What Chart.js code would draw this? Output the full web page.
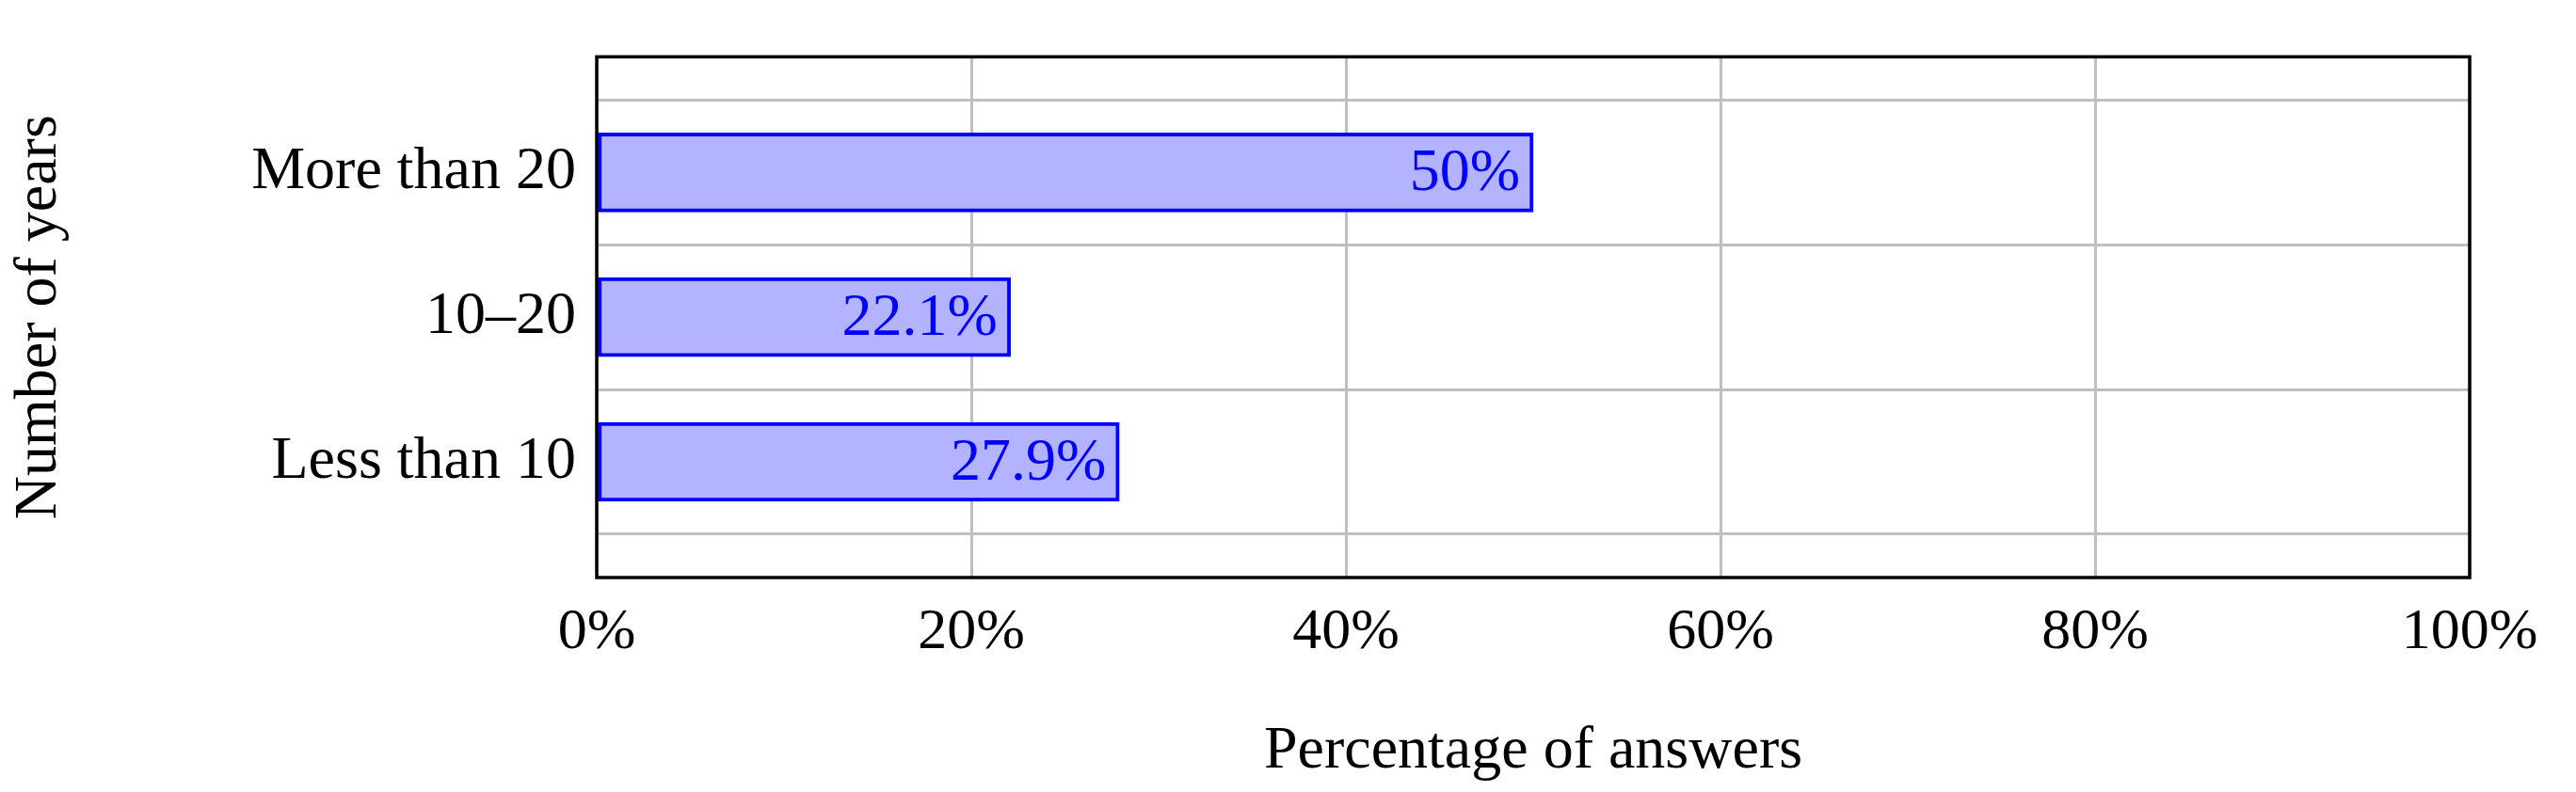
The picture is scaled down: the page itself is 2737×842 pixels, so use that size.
<!DOCTYPE html>
<html>
<head>
<meta charset="utf-8">
<script src="https://cdn.jsdelivr.net/npm/chart.js@4.4.0/dist/chart.umd.min.js"></script>
<style>
  html, body { margin: 0; padding: 0; background: #fff; overflow: hidden; }
</style>
</head>
<body>
<canvas id="chart" width="2737" height="842"></canvas>
<script>
// --- datos ---
const categories = ['Less than 10', '10–20', 'More than 20'];
const percentages = [27.9, 22.1, 50];
const valueLabels = ['27.9%', '22.1%', '50%'];
const xTicks = [0, 20, 40, 60, 80, 100];

const FONT = '"Liberation Serif", "DejaVu Serif", serif';

// etiquetas azules al final de cada barra
const barLabels = {
    id: 'barLabels',
    afterDatasetsDraw(chart) {
        const ctx = chart.ctx;
        const meta = chart.getDatasetMeta(0);
        ctx.save();
        ctx.fillStyle = '#0000ff';
        ctx.font = '64px ' + FONT;
        ctx.textAlign = 'right';
        ctx.textBaseline = 'middle';
        meta.data.forEach((bar, i) => {
            ctx.fillText(valueLabels[i], bar.x - 14, bar.y + 2);
        });
        ctx.restore();
    }
};

// marco negro alrededor del área
const frame = {
    id: 'frame',
    afterDraw(chart) {
        const { left, right, top, bottom } = chart.chartArea;
        const ctx = chart.ctx;
        ctx.save();
        ctx.strokeStyle = '#000';
        ctx.lineWidth = 3.5;
        ctx.strokeRect(left, top, right - left, bottom - top);
        ctx.restore();
    }
};

new Chart(document.getElementById('chart'), {
    type: 'bar',
    data: {
        datasets: [{
            data: percentages.map((v, i) => ({ x: v, y: i })),
            backgroundColor: '#b3b3ff',
            borderColor: '#0000ff',
            borderWidth: 4,
            borderSkipped: false,
            barThickness: 84
        }]
    },
    options: {
        indexAxis: 'y',
        responsive: false,
        animation: false,
        devicePixelRatio: 1,
        layout: { padding: { top: 42, right: 113, left: 0, bottom: 0 } },
        plugins: { legend: { display: false }, tooltip: { enabled: false } },
        scales: {
            x: {
                type: 'linear',
                min: 0, max: 100,
                afterBuildTicks: s => { s.ticks = xTicks.map(v => ({ value: v })); },
                afterFit: s => { s.height = 228; },
                grid: { color: '#bfbfbf', lineWidth: 3, drawTicks: false },
                border: { display: false },
                ticks: {
                    color: '#000', padding: 22,
                    font: { family: FONT, size: 62 },
                    callback: v => v + '%'
                },
                title: {
                    display: true, text: 'Percentage of answers', color: '#000',
                    font: { family: FONT, size: 64 }, padding: { top: 30 }
                }
            },
            y: {
                type: 'linear',
                min: -0.2, max: 2.2,
                afterBuildTicks: s => { s.ticks = categories.map((c, i) => ({ value: i })); },
                afterFit: s => { s.width = 634; },
                grid: { color: '#bfbfbf', lineWidth: 3, drawTicks: false },
                border: { display: false },
                ticks: {
                    color: '#000', padding: 22,
                    font: { family: FONT, size: 64 },
                    callback: v => categories[v] || ''
                },
                title: {
                    display: true, text: 'Number of years', color: '#000',
                    font: { family: FONT, size: 64 }, padding: { bottom: 10 }
                }
            }
        }
    },
    plugins: [barLabels, frame]
});
</script>
</body>
</html>
